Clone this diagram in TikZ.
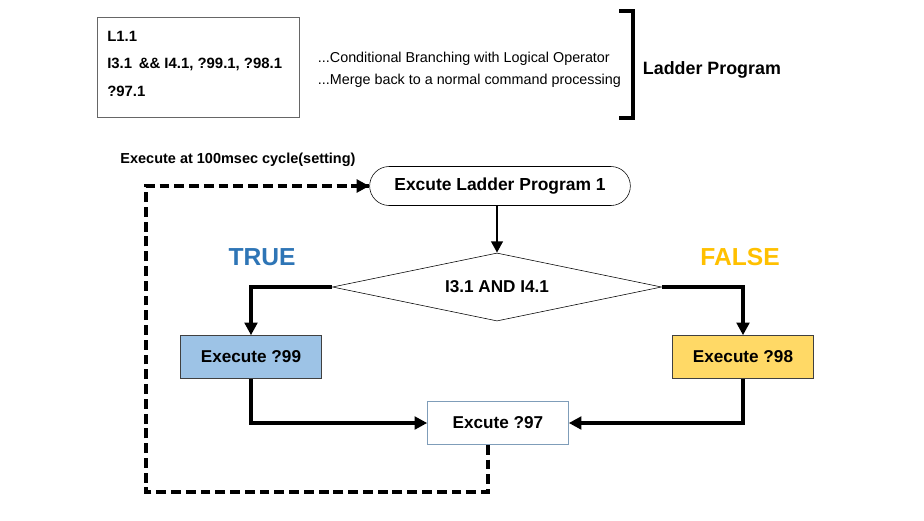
\documentclass[tikz,border=0pt]{standalone}
\usepackage{fontspec}
\setmainfont{Liberation Sans}
\usetikzlibrary{arrows.meta,shapes.geometric,shapes.misc}
\definecolor{trueblue}{HTML}{2E75B6}
\definecolor{falsegold}{HTML}{FFC000}
\definecolor{boxblue}{HTML}{9DC3E6}
\definecolor{boxgold}{HTML}{FFD966}
\definecolor{edgeblue}{HTML}{7F9DB9}
\tikzset{
  flow/.style={line width=2.4pt,-{Triangle[length=9pt,width=9pt]}},
  loop/.style={line width=2.4pt,dash pattern=on 7pt off 3.5pt},
  procbox/.style={draw=black!75,minimum width=3.525cm,minimum height=1.075cm,
    font=\bfseries\fontsize{12.2}{14}\selectfont},
  tag/.style={font=\bfseries\fontsize{17.5}{20}\selectfont}
}
\begin{document}
\begin{tikzpicture}[x=0.025cm,y=-0.025cm]
\useasboundingbox (0,0) rectangle (924,520);
% program listing
\draw[black!60] (97,17) rectangle (299,117);
\node[anchor=north west,inner sep=0pt,align=left,
  font=\bfseries\fontsize{10.6}{19.4}\selectfont] (listing) at (107,31)
  {L1.1\\I3.1 \,\&\& I4.1, ?99.1, ?98.1\\?97.1};
\node[anchor=west,font=\fontsize{10.2}{12}\selectfont] (cond) at (313,59) {...Conditional Branching with Logical Operator};
\node[anchor=west,font=\fontsize{10.2}{12}\selectfont] (merge) at (313,81) {...Merge back to a normal command processing};
\draw[line width=2.2pt] (619,11) -- (633,11) -- (633,118) -- (619,118);
\node[anchor=west,font=\bfseries\fontsize{12.7}{15}\selectfont] (ladder) at (638,70) {Ladder Program};
% flow chart
\node[font=\bfseries\fontsize{10.3}{12}\selectfont] (cycle) at (238,160) {Execute at 100msec cycle(setting)};
\node[draw,rounded rectangle,minimum width=6.75cm,minimum height=0.975cm,
  font=\bfseries\fontsize{12.4}{14}\selectfont] (prog) at (500,186) {Excute Ladder Program 1};
\node[draw,diamond,aspect=4.8,minimum width=8.225cm,minimum height=1.7cm,inner sep=0pt,
  font=\bfseries\fontsize{12.2}{14}\selectfont] (cond1) at (497,287) {I3.1 AND I4.1};
\node[tag,text=trueblue] (true) at (262,257) {TRUE};
\node[tag,text=falsegold] (false) at (740,257) {FALSE};
\node[procbox,fill=boxblue] (ex99) at (251,357) {Execute ?99};
\node[procbox,fill=boxgold] (ex98) at (743,357) {Execute ?98};
\node[procbox,draw=edgeblue,fill=white] (ex97) at (498,423) {Excute ?97};
\coordinate (lb) at (146,492);
\draw[line width=2pt,-{Triangle[length=8pt,width=8pt]}] (prog.south -| cond1.north) -- (cond1.north);
\draw[flow] (cond1.west) -| (ex99.north);
\draw[flow] (cond1.east) -| (ex98.north);
\draw[flow] (ex99.south) |- (ex97.west);
\draw[flow] (ex98.south) |- (ex97.east);
\draw[loop] ([xshift=-0.25cm]ex97.south) |- (lb) |- (prog.west);
\draw[line width=2.4pt,-{Triangle[length=9pt,width=9pt]}] ([xshift=-10pt]prog.west) -- (prog.west);
\end{tikzpicture}
\end{document}
